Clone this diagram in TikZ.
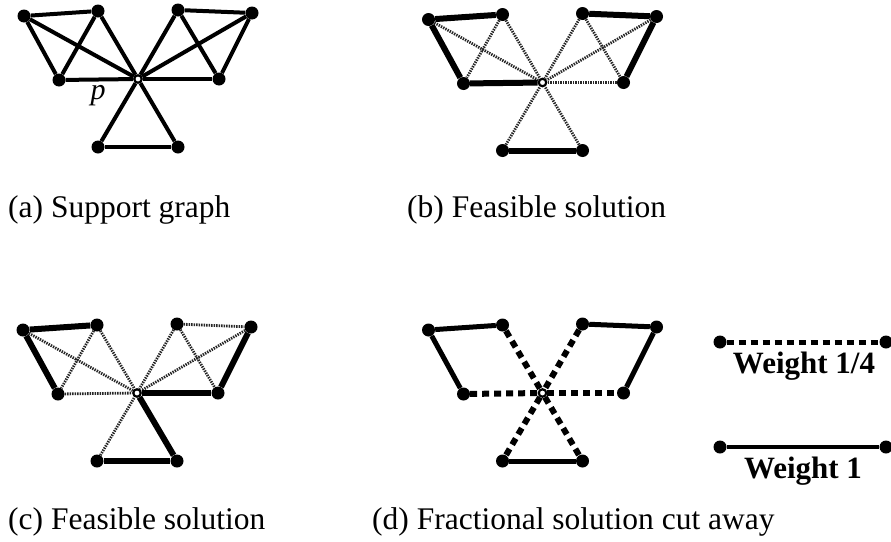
\documentclass[tikz,border=0pt]{standalone}
\usepackage{fontspec}
\setmainfont{Liberation Serif}
\begin{document}
\begin{tikzpicture}[x=1pt,y=-1pt,
  dot/.style={circle,fill=black,inner sep=0pt,minimum size=13pt},
  pdot/.style={circle,draw=black,fill=white,line width=2.2pt,inner sep=0pt,minimum size=7.5pt},
  sup/.style={line width=4pt},
  heavy/.style={line width=6pt},
  light/.style={line width=2.8pt,black!85,dash pattern=on 1.4pt off 1.1pt},
  frac/.style={line width=6pt,dash pattern=on 7pt off 5pt},
  one/.style={line width=5pt},
  captext/.style={font=\fontsize{31.5}{36}\selectfont,anchor=base west,inner sep=0pt},
  legtext/.style={font=\fontsize{31}{36}\selectfont\bfseries,anchor=base,inner sep=0pt}]
\useasboundingbox (0,0) rectangle (891,541);
\newcommand\mkgraph[3]{%
  \begin{scope}[shift={(#2,#3)}]
    \node[dot] (#1A) at (24,16) {};
    \node[dot] (#1B) at (98,11) {};
    \node[dot] (#1C) at (59,80) {};
    \node[dot] (#1D) at (178,10) {};
    \node[dot] (#1E) at (252,13) {};
    \node[dot] (#1F) at (219,79) {};
    \node[dot] (#1G) at (98,147) {};
    \node[dot] (#1H) at (178,147) {};
    \node[pdot] (#1P) at (138,79) {};
  \end{scope}}
\newcommand\mkedges[3]{%
  \foreach \u/\v in {#3} {\draw[#2] (#1\u) -- (#1\v);}}
% (a)
\mkgraph{a}{0}{0}
\mkedges{a}{sup}{A/B,A/C,A/P,B/C,B/P,C/P,D/E,D/F,D/P,E/F,E/P,F/P,G/H,G/P,H/P}
\node[font=\fontsize{30}{34}\selectfont\itshape,anchor=base,inner sep=0pt] (plabel) at (98,99) {p};
% (b)
\mkgraph{b}{404.5}{3.5}
\mkedges{b}{light}{A/P,B/C,B/P,D/F,D/P,E/P,F/P,G/P,H/P}
\mkedges{b}{heavy}{A/B,A/C,C/P,D/E,E/F,G/H}
% (c)
\mkgraph{c}{-1}{314}
\mkedges{c}{light}{A/P,B/C,B/P,C/P,D/E,D/F,D/P,E/P,G/P}
\mkedges{c}{heavy}{A/B,A/C,P/F,E/F,P/H,G/H}
% (d)
\mkgraph{d}{404.5}{314}
\mkedges{d}{frac}{B/P,P/H,D/P,P/G,C/P,P/F}
\mkedges{d}{one}{A/B,A/C,D/E,E/F,G/H}
% captions
\node[captext] (capa) at (8,217) {(a) Support graph};
\node[captext] (capb) at (407,217) {(b) Feasible solution};
\node[captext] (capc) at (8,529) {(c) Feasible solution};
\node[captext] (capd) at (372,529) {(d) Fractional solution cut away};
% legend
\node[dot] (l1a) at (720,342) {};
\node[dot] (l1b) at (886,342) {};
\draw[frac,line width=5pt] (l1a) -- (l1b);
\node[legtext] (l1t) at (804,373) {Weight 1/4};
\node[dot] (l2a) at (720,447) {};
\node[dot] (l2b) at (886,447) {};
\draw[one,line width=4pt] (l2a) -- (l2b);
\node[legtext] (l2t) at (803,478) {Weight 1};
\end{tikzpicture}
\end{document}
